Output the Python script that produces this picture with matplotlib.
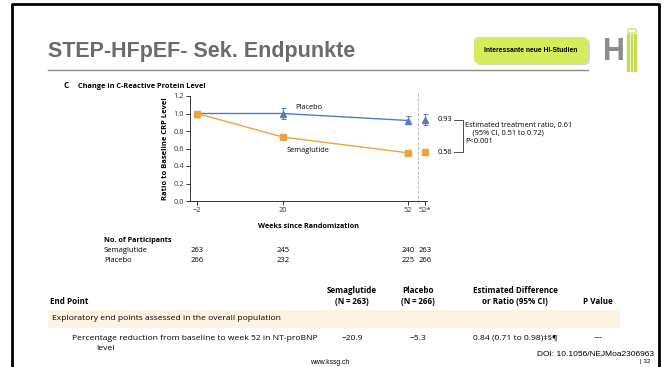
import matplotlib
matplotlib.use("Agg")
import matplotlib.pyplot as plt
from matplotlib.patches import FancyBboxPatch, Rectangle, Polygon

# --- Données ---
tick_labels = ["\u22122", "20", "52", "52*"]
weeks = [-2, 20, 52]
placebo = [1.00, 1.00, 0.92]
placebo_lo = [1.00, 0.94, 0.88]
placebo_hi = [1.00, 1.06, 0.97]
sema = [1.00, 0.73, 0.55]
sema_lo = [1.00, 0.70, 0.53]
sema_hi = [1.00, 0.77, 0.57]
placebo_final, placebo_final_lo, placebo_final_hi = 0.93, 0.87, 0.99
sema_final, sema_final_lo, sema_final_hi = 0.56, 0.54, 0.58

n_sema = ["263", "245", "240", "263"]
n_placebo = ["266", "232", "225", "266"]

header_cols = ["Semaglutide\n(N\u2009=\u2009263)", "Placebo\n(N\u2009=\u2009266)",
               "Estimated Difference\nor Ratio (95% CI)", "P Value"]
row_values = ["\u221220.9", "\u22125.3", "0.84 (0.71 to 0.98)\u2021\u00a7\u00b6", "\u2014"]

# --- Mise en page ---
W, H = 667, 367
BLUE = "#4f7fc4"
ORANGE = "#eba43b"
FONT = ["Open Sans", "DejaVu Sans"]
plt.rcParams["font.family"] = FONT
FS = 5.3      # texte du graphique
FT = 6.1      # texte du tableau

fig = plt.figure(figsize=(W / 100, H / 100), dpi=100)
bg = fig.add_axes([0, 0, 1, 1])
bg.set_xlim(0, W)
bg.set_ylim(H, 0)
bg.axis("off")

# cadre noir
bg.plot([12, 12, 659, 659], [H + 5, 4, 4, H + 5], color="black", lw=2, clip_on=False)

# titre
bg.text(48, 51, "STEP-HFpEF- Sek. Endpunkte", fontsize=15.5, fontweight="bold",
        color="#6b6b6b", family="Liberation Sans", va="center")
bg.plot([48, 588], [70, 70], color="#8a8a8a", lw=1)

# bouton vert
bg.add_patch(FancyBboxPatch((476, 39), 114, 26, boxstyle="round,pad=0,rounding_size=5",
                            fc="#d5d9c8", ec="none", zorder=1))
bg.add_patch(FancyBboxPatch((474, 37), 114, 26, boxstyle="round,pad=0,rounding_size=5",
                            fc="#d6ec5a", ec="none", zorder=2))
bg.text(531, 50, "Interessante neue HI-Studien", fontsize=4.9, fontweight="bold",
        family="Liberation Sans", ha="center", va="center", zorder=3)

# logo HI
bg.text(614, 52, "H", fontsize=22, fontweight="bold", color="#8c8c8c",
        family="Liberation Sans", ha="center", va="center")
for xb in [627, 630.5, 634]:
    bg.add_patch(Rectangle((xb, 34), 1.6, 37, color="#c5dd55"))
bg.add_patch(Polygon([(628, 29), (635, 29), (637, 31), (635, 33), (628, 33)],
                     closed=True, fc="none", ec="#c5dd55", lw=0.8))

# titre du graphique
bg.text(64, 86, "C", fontsize=5.8, fontweight="bold", va="center")
bg.text(78, 86, "Change in C-Reactive Protein Level", fontsize=5.3, fontweight="bold", va="center")

# --- Graphique ---
ax = fig.add_axes([190 / W, 1 - 201 / H, (427 - 190) / W, (201 - 96) / H])
ax.patch.set_alpha(0)
x_pos = weeks + [56.3]

ax.errorbar(weeks, placebo, yerr=[[p - l for p, l in zip(placebo, placebo_lo)],
                                  [h - p for p, h in zip(placebo, placebo_hi)]],
            color=BLUE, marker="^", ms=4.5, lw=1, elinewidth=0.7, capsize=1.8, capthick=0.7,
            clip_on=False, zorder=3)
ax.errorbar(weeks, sema, yerr=[[p - l for p, l in zip(sema, sema_lo)],
                               [h - p for p, h in zip(sema, sema_hi)]],
            color=ORANGE, marker="s", ms=4.5, lw=1, elinewidth=0.7, capsize=1.8, capthick=0.7,
            clip_on=False, zorder=4)
ax.errorbar([x_pos[3]], [placebo_final],
            yerr=[[placebo_final - placebo_final_lo], [placebo_final_hi - placebo_final]],
            color=BLUE, marker="^", ms=4.5, elinewidth=0.7, capsize=1.8, capthick=0.7, clip_on=False)
ax.errorbar([x_pos[3]], [sema_final],
            yerr=[[sema_final - sema_final_lo], [sema_final_hi - sema_final]],
            color=ORANGE, marker="s", ms=4.5, elinewidth=0.7, capsize=1.8, capthick=0.7, clip_on=False)

ax.plot([54.5, 54.5], [-0.02, 1.24], ls=(0, (3, 2)), color="#b5b5b5", lw=0.7, clip_on=False)

ax.set_xlim(-3.8, 56.8)
ax.set_ylim(0, 1.2)
ax.set_xticks(x_pos)
ax.set_xticklabels(tick_labels)
ax.set_yticks([0, 0.2, 0.4, 0.6, 0.8, 1.0, 1.2])
ax.set_yticklabels(["0.0", "0.2", "0.4", "0.6", "0.8", "1.0", "1.2"])
for s in ["top", "right"]:
    ax.spines[s].set_visible(False)
for s in ["left", "bottom"]:
    ax.spines[s].set_linewidth(0.7)
    ax.spines[s].set_color("#333333")
ax.tick_params(length=3, width=0.7, labelsize=FS, pad=1.5, colors="#333333")
ax.set_ylabel("Ratio to Baseline CRP Level", fontsize=5.4, fontweight="bold", labelpad=3)
ax.set_xlabel("Weeks since Randomization", fontsize=5.2, fontweight="bold", labelpad=6)

ax.text(23, 1.07, "Placebo", fontsize=FS, va="center")
ax.text(21, 0.58, "Semaglutide", fontsize=FS, va="center")

# annotations a droite
ax.text(59.6, placebo_final, "0.93", fontsize=FS, va="center", clip_on=False)
ax.text(59.6, sema_final, "0.56", fontsize=FS, va="center", clip_on=False)
ax.plot([63.8, 65.9, 65.9, 63.8], [placebo_final, placebo_final, sema_final, sema_final],
        color="#333333", lw=0.6, clip_on=False)
ax.text(66.6, 0.905, "Estimated treatment ratio, 0.61\n    (95% CI, 0.51 to 0.72)\nP<0.001",
        fontsize=FS, va="top", linespacing=1.2, clip_on=False)

# --- Nombre de participants ---
bg.text(104, 240, "No. of Participants", fontsize=5.2, fontweight="bold", va="center")
bg.text(104, 251, "Semaglutide", fontsize=5.5, va="center")
bg.text(104, 261, "Placebo", fontsize=5.5, va="center")
for xv, ns, npl in zip(x_pos, n_sema, n_placebo):
    xd = ax.transData.transform((xv, 0))[0]
    bg.text(xd, 251, ns, fontsize=5.5, ha="center", va="center")
    bg.text(xd, 261, npl, fontsize=5.5, ha="center", va="center")

# --- Tableau ---
col_x = [352, 418, 515, 598]
bg.text(50, 302, "End Point", fontsize=5.8, fontweight="bold", va="center")
for cx, lab in zip(col_x, header_cols):
    bg.text(cx, 302 if "\n" not in lab else 296, lab, fontsize=5.8, fontweight="bold",
            ha="center", va="center", linespacing=1.15)
bg.add_patch(Rectangle((48, 310), 572, 18, fc="#fcf3e3", ec="none"))
bg.text(52, 319, "Exploratory end points assessed in the overall population",
        fontsize=FT, va="center")
bg.text(72, 338, "Percentage reduction from baseline to week 52 in NT-proBNP",
        fontsize=FT, va="center")
bg.text(96, 348, "level", fontsize=FT, va="center")
for cx, val in zip(col_x, row_values):
    bg.text(cx, 338, val, fontsize=FT, ha="center", va="center")

# pied de page
bg.text(654, 354, "DOI: 10.1056/NEJMoa2306963", fontsize=6, family="Liberation Sans",
        ha="right", va="center")
bg.text(330, 362, "www.kssg.ch", fontsize=4.9, family="Liberation Sans", ha="center", va="center")
bg.text(640, 362, "| 32", fontsize=4.5, family="Liberation Sans", va="center")

fig.savefig("out.png", dpi=100)
